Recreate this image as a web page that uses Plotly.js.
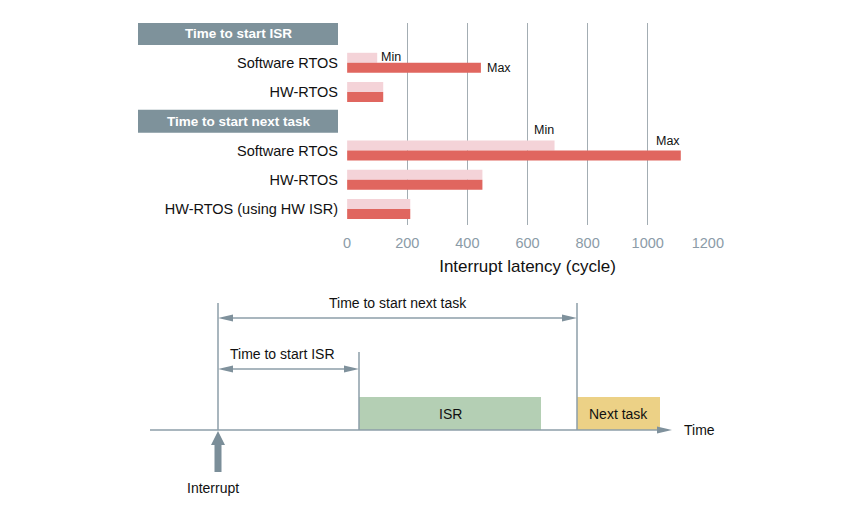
<!DOCTYPE html>
<html><head><meta charset="utf-8">
<script src="https://cdn.plot.ly/plotly-3.0.1.min.js"></script>
<style>html,body{margin:0;padding:0;background:#fff}#chart{width:864px;height:513px}</style>
</head><body><div id="chart"></div>
<script>
// ---- bar chart data ----
const rows = ['Time to start ISR','Software RTOS','HW-RTOS','Time to start next task','Software RTOS','HW-RTOS','HW-RTOS (using HW ISR)'];
const isHeader = [true,false,false,true,false,false,false];
const minLatency = [null,100,120,null,690,450,210];
const maxLatency = [null,445,120,null,1110,450,210];
const xTicks = [0,200,400,600,800,1000,1200];

// ---- timing diagram data (arbitrary time units) ----
const eventNames = ['interrupt','isrStart','isrEnd','nextStart','nextEnd'];
const eventTimes = [0, 14.1, 32.3, 35.9, 44.2];
const timeAxisSpan = [-6.8, 45.4];
const levels = {box:3.3, isrArrow:6.1, nextArrow:11.2, isrTick:7.8, longTick:12.7};

const T = {}; eventNames.forEach((n,i)=>T[n]=eventTimes[i]);
const rowIdx = rows.map((_,i)=>i);
const font = 'Liberation Sans, Arial, Helvetica, sans-serif';
const lineCol = '#8d9ea9';

const traces = [
  {type:'bar', orientation:'h', name:'Min', x:minLatency, y:rowIdx, marker:{color:'#f4d3d8'}, hoverinfo:'x', cliponaxis:false},
  {type:'bar', orientation:'h', name:'Max', x:maxLatency, y:rowIdx, marker:{color:'#e0665f'}, hoverinfo:'x', cliponaxis:false},
  {type:'scatter', mode:'markers', x:eventTimes, y:eventTimes.map(()=>0), xaxis:'x2', yaxis:'y2', marker:{opacity:0}, hoverinfo:'skip', showlegend:false}
];

const shapes = [];
const annotations = [];

// header rows
rowIdx.forEach(i=>{
  if(!isHeader[i]) return;
  shapes.push({type:'rect', xref:'paper', yref:'y', x0:138/864, x1:338/864, y0:i-0.39, y1:i+0.39, fillcolor:'#7e929b', line:{width:0}});
  annotations.push({xref:'paper', yref:'y', x:239/864, y:i, xanchor:'center', yanchor:'middle', text:'<b>'+rows[i]+'</b>', showarrow:false, font:{family:font, size:13.5, color:'#fff'}});
});

// Min/Max labels
const lf = {family:font, size:12.5, color:'#111'};
annotations.push({xref:'x', yref:'y', x:minLatency[1], y:1-0.2, text:'Min', showarrow:false, xanchor:'left', xshift:2, font:lf});
annotations.push({xref:'x', yref:'y', x:maxLatency[1], y:1+0.17, text:'Max', showarrow:false, xanchor:'left', xshift:4, font:lf});
annotations.push({xref:'x', yref:'y', x:minLatency[4], y:4-0.69, text:'Min', showarrow:false, xanchor:'right', xshift:1, font:lf});
annotations.push({xref:'x', yref:'y', x:maxLatency[4], y:4-0.31, text:'Max', showarrow:false, xanchor:'right', xshift:1, font:lf});

// ---- timing diagram shapes ----
const ref = {xref:'x2', yref:'y2'};
function line(x0,y0,x1,y1,w){ shapes.push(Object.assign({type:'line', x0,y0,x1,y1, line:{color:lineCol, width:w||1.5}}, ref)); }
function head(xTip,y,dir,len,half){ // horizontal arrow head
  const xb = xTip - dir*len;
  shapes.push(Object.assign({type:'path', path:`M${xTip},${y} L${xb},${y+half} L${xb},${y-half} Z`, fillcolor:'#7f919c', line:{width:0}}, ref));
}
// boxes
shapes.push(Object.assign({type:'rect', x0:T.isrStart, x1:T.isrEnd, y0:0, y1:levels.box, fillcolor:'#b4cfb4', line:{width:0}}, ref));
shapes.push(Object.assign({type:'rect', x0:T.nextStart, x1:T.nextEnd, y0:0, y1:levels.box, fillcolor:'#ecd186', line:{width:0}}, ref));
// time axis
line(timeAxisSpan[0], 0, timeAxisSpan[1]-1.2, 0);
head(timeAxisSpan[1], 0, 1, 1.5, 0.35);
// vertical markers
line(T.interrupt, 0, T.interrupt, levels.longTick);
line(T.isrStart, 0, T.isrStart, levels.isrTick);
line(T.nextStart, 0, T.nextStart, levels.longTick);
// span arrows
line(T.interrupt+1.2, levels.nextArrow, T.nextStart-1.2, levels.nextArrow);
head(T.interrupt, levels.nextArrow, -1, 1.5, 0.35);
head(T.nextStart, levels.nextArrow, 1, 1.5, 0.35);
line(T.interrupt+1.2, levels.isrArrow, T.isrStart-1.2, levels.isrArrow);
head(T.interrupt, levels.isrArrow, -1, 1.5, 0.35);
head(T.isrStart, levels.isrArrow, 1, 1.5, 0.35);
// interrupt arrow (up)
{
  const x=T.interrupt, tip=-0.1, hb=-1.5, bot=-4.2, hw=0.7, sw=0.35;
  shapes.push(Object.assign({type:'path', path:`M${x},${tip} L${x+hw},${hb} L${x+sw},${hb} L${x+sw},${bot} L${x-sw},${bot} L${x-sw},${hb} L${x-hw},${hb} Z`, fillcolor:'#7b8e99', line:{width:0}}, ref));
}
const df = {family:font, size:14, color:'#111'};
function txt(x,y,t,xa){ annotations.push(Object.assign({x,y,text:t,showarrow:false,xanchor:xa||'center',yanchor:'middle',font:df}, ref)); }
txt((T.interrupt+T.nextStart)/2, levels.longTick, 'Time to start next task');
txt(T.interrupt+1.0, levels.isrTick-0.2, 'Time to start ISR', 'left');
txt((T.isrStart+T.isrEnd)/2, levels.box/2, 'ISR');
txt((T.nextStart+T.nextEnd)/2, levels.box/2, 'Next task');
txt(timeAxisSpan[1]+1.0, 0, 'Time', 'left');
txt(T.interrupt-0.5, -5.8, 'Interrupt');

const layout = {
  width:864, height:513,
  margin:{l:0, r:0, t:0, b:0},
  paper_bgcolor:'#fff', plot_bgcolor:'rgba(0,0,0,0)',
  showlegend:false,
  barmode:'group', bargap:0.318, bargroupgap:0,
  font:{family:font, color:'#111'},
  xaxis:{domain:[347/864, 708/864], range:[-0.5,1200.5], tickvals:xTicks, showgrid:true, gridcolor:'#a3adb3', gridwidth:1.3, zeroline:false, showline:false, ticks:'',
         ticklabelstandoff:7, tickfont:{size:14.5, color:'#8b9ba7'}, title:{text:'Interrupt latency (cycle)', font:{size:17, color:'#111'}, standoff:10}, anchor:'y', fixedrange:true},
  yaxis:{domain:[1-225/513, 1-23/513], range:[6.547,-0.36], tickvals:[1,2,4,5,6], ticktext:[1,2,4,5,6].map(i=>rows[i]), showgrid:false, zeroline:false, ticks:'',
         ticklabelstandoff:8, tickfont:{size:14.5, color:'#111'}, anchor:'x', fixedrange:true},
  xaxis2:{domain:[0,1], range:[-21.8,64.6], visible:false, anchor:'y2', fixedrange:true},
  yaxis2:{domain:[0,233/513], range:[-8.3,15], visible:false, anchor:'x2', fixedrange:true},
  shapes, annotations
};
Plotly.newPlot('chart', traces, layout, {displayModeBar:false, staticPlot:true});
</script></body></html>
